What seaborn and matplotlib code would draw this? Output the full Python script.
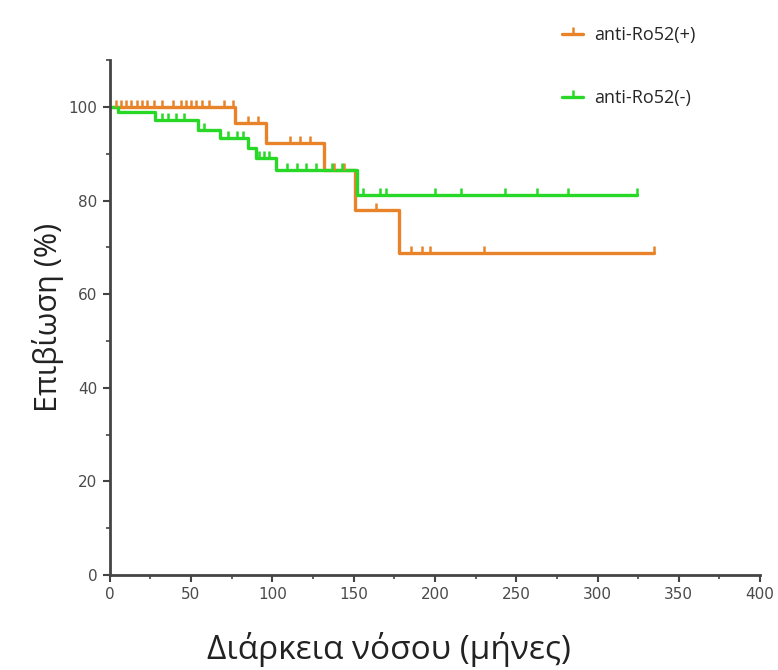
import numpy as np
import pandas as pd
import seaborn as sns
from matplotlib import pyplot as plt
from matplotlib.ticker import MultipleLocator

# Kaplan-Meier step curves
pos_time = [0, 77, 96, 132, 151, 178, 335]
pos_surv = [100, 96.5, 92.3, 86.5, 78.0, 68.8, 68.8]
pos_censor = [4, 7, 10, 13, 17, 20, 23, 27, 32, 39, 44, 47, 50, 53, 57, 61, 70, 76,
              85, 91, 111, 117, 123, 138, 144, 164, 185, 192, 197, 230, 335]

neg_time = [0, 5, 28, 54, 68, 85, 90, 102, 152, 324]
neg_surv = [100, 98.9, 97.2, 95.1, 93.4, 91.2, 89.1, 86.5, 81.2, 81.2]
neg_censor = [32, 36, 41, 46, 58, 73, 78, 82, 92, 95, 98, 109, 115, 121, 127, 137,
              143, 156, 166, 170, 200, 216, 243, 263, 282, 324]

groups = ['anti-Ro52(+)', 'anti-Ro52(-)']
colors = {'anti-Ro52(+)': '#E8832A', 'anti-Ro52(-)': '#27D827'}

curves = pd.concat([
    pd.DataFrame({'time': pos_time, 'surv': pos_surv, 'group': groups[0]}),
    pd.DataFrame({'time': neg_time, 'surv': neg_surv, 'group': groups[1]}),
])


def step_value(times, survs, t):
    idx = np.searchsorted(times, t, side='right') - 1
    return np.asarray(survs)[idx]


sns.set_style('ticks')
plt.rcParams['font.family'] = ['Open Sans', 'DejaVu Sans']

fig = plt.figure(figsize=(7.78, 6.7), dpi=100)
ax = fig.add_axes([0.141, 0.142, 0.836, 0.768])

sns.lineplot(data=curves, x='time', y='surv', hue='group', palette=colors,
             drawstyle='steps-post', estimator=None, linewidth=2.4, ax=ax,
             legend=False)

# censor marks (upward ticks)
for name, times, survs, cens in [(groups[0], pos_time, pos_surv, pos_censor),
                                 (groups[1], neg_time, neg_surv, neg_censor)]:
    ax.plot(cens, step_value(times, survs, cens), linestyle='none', marker=2,
            markersize=5, markeredgewidth=1.8, color=colors[name])

ax.set_xlim(0, 400)
ax.set_ylim(0, 110)
ax.xaxis.set_major_locator(MultipleLocator(50))
ax.xaxis.set_minor_locator(MultipleLocator(25))
ax.yaxis.set_minor_locator(MultipleLocator(10))
ax.set_yticks([0, 20, 40, 60, 80, 100])

for s in ['top', 'right']:
    ax.spines[s].set_visible(False)
for s in ['left', 'bottom']:
    ax.spines[s].set_color('#444444')
    ax.spines[s].set_linewidth(2)

ax.tick_params(which='major', length=5, width=1.5, color='#444444',
               labelsize=11, labelcolor='#4a4a4a', pad=4)
ax.tick_params(which='minor', length=3, width=1.2, color='#444444')
for lab in ax.get_xticklabels() + ax.get_yticklabels():
    lab.set_family('DejaVu Sans')

ax.set_xlabel('Διάρκεια νόσου (μήνες)', fontsize=24, color='#222222')
ax.xaxis.set_label_coords(0.43, -0.112)
ax.set_ylabel('Επιβίωση (%)', fontsize=22, color='#222222', labelpad=3)

handles = [plt.Line2D([], [], color=colors[g], marker=2, markersize=5,
                      markeredgewidth=1.8, linewidth=2.4) for g in groups]
fig.legend(handles, groups, loc='upper right', bbox_to_anchor=(0.915, 0.985),
           frameon=False, fontsize=13, labelspacing=2.5, handlelength=1.2,
           handletextpad=0.6)

fig.savefig('out.png', dpi=100)
